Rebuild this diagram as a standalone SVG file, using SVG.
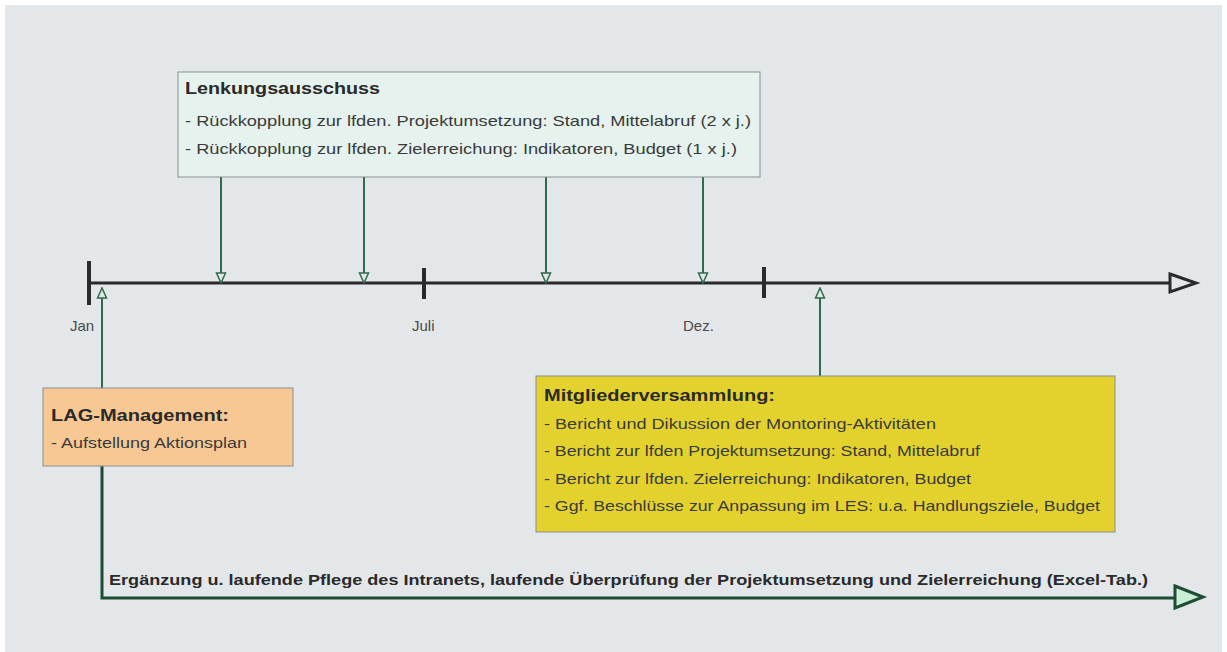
<svg xmlns="http://www.w3.org/2000/svg" width="1227" height="652" viewBox="0 0 1227 652">
<defs>
<style>
text{font-family:"Liberation Sans",Arial,sans-serif;fill:#3a3a3a;font-size:15px}
.b{font-weight:bold;fill:#2a2a2a;font-size:16px}
.lbl{font-size:15px;fill:#4a4a4a}
.box{stroke:#8a9090;stroke-width:1}
.g{stroke:#2f6a4a;stroke-width:2;fill:none}
</style>
<marker id="ah" viewBox="0 0 12 12" refX="11" refY="6" markerWidth="12" markerHeight="12" markerUnits="userSpaceOnUse" orient="auto">
<path d="M1,1.5 L11,6 L1,10.5 Z" fill="#e3e7ea" stroke="#2f6a4a" stroke-width="1.5"/>
</marker>
</defs>
<rect x="0" y="0" width="1227" height="652" fill="#ffffff"/>
<rect x="5" y="5" width="1217" height="647" fill="#e3e7ea"/>

<g id="timeline">
<line x1="89" y1="283" x2="1172" y2="283" stroke="#2a2a2a" stroke-width="3"/>
<path d="M1170,274 L1196,283 L1170,292 Z" fill="#e3e7ea" stroke="#2a2a2a" stroke-width="3" stroke-linejoin="miter"/>
<line x1="89" y1="261" x2="89" y2="305" stroke="#2a2a2a" stroke-width="4"/>
<line x1="424" y1="268" x2="424" y2="299" stroke="#2a2a2a" stroke-width="4"/>
<line x1="764" y1="267" x2="764" y2="298" stroke="#2a2a2a" stroke-width="4"/>
<text class="lbl" x="70" y="331">Jan</text>
<text class="lbl" x="412" y="331">Juli</text>
<text class="lbl" x="683" y="331">Dez.</text>
</g>

<g id="connectors">
<line class="g" x1="221" y1="177" x2="221" y2="283" marker-end="url(#ah)"/>
<line class="g" x1="364" y1="177" x2="364" y2="283" marker-end="url(#ah)"/>
<line class="g" x1="546" y1="177" x2="546" y2="283" marker-end="url(#ah)"/>
<line class="g" x1="703" y1="177" x2="703" y2="283" marker-end="url(#ah)"/>
<line class="g" x1="820" y1="376" x2="820" y2="288" marker-end="url(#ah)"/>
<line class="g" x1="102" y1="388" x2="102" y2="288" marker-end="url(#ah)"/>
<path d="M102,466 L102,598 L1176,598" fill="none" stroke="#1f4d33" stroke-width="3"/>
<path d="M1175,586 L1203,597 L1175,608 Z" fill="#c9efd6" stroke="#1f4d33" stroke-width="3"/>
</g>

<g id="lenkungsausschuss">
<rect class="box" x="178" y="72" width="582" height="105" fill="#e5f2ed"/>
<text class="b" x="185" y="94" textLength="195" lengthAdjust="spacingAndGlyphs">Lenkungsausschuss</text>
<text x="185" y="126" textLength="566" lengthAdjust="spacingAndGlyphs">- Rückkopplung zur lfden. Projektumsetzung: Stand, Mittelabruf (2 x j.)</text>
<text x="185" y="154" textLength="552" lengthAdjust="spacingAndGlyphs">- Rückkopplung zur lfden. Zielerreichung: Indikatoren, Budget (1 x j.)</text>
</g>

<g id="lag-management">
<rect class="box" x="43" y="388" width="250" height="78" fill="#f8c894"/>
<text class="b" x="51" y="421" textLength="178" lengthAdjust="spacingAndGlyphs">LAG-Management:</text>
<text x="51" y="448" textLength="196" lengthAdjust="spacingAndGlyphs">- Aufstellung Aktionsplan</text>
</g>

<g id="mitgliederversammlung">
<rect class="box" x="536" y="376" width="579" height="156" fill="#e3d22e"/>
<text class="b" x="544" y="401" textLength="231" lengthAdjust="spacingAndGlyphs">Mitgliederversammlung:</text>
<text x="544" y="429" textLength="392" lengthAdjust="spacingAndGlyphs">- Bericht und Dikussion der Montoring-Aktivitäten</text>
<text x="544" y="456" textLength="436" lengthAdjust="spacingAndGlyphs">- Bericht zur lfden Projektumsetzung: Stand, Mittelabruf</text>
<text x="544" y="484" textLength="427" lengthAdjust="spacingAndGlyphs">- Bericht zur lfden. Zielerreichung: Indikatoren, Budget</text>
<text x="544" y="511" textLength="556" lengthAdjust="spacingAndGlyphs">- Ggf. Beschlüsse zur Anpassung im LES: u.a. Handlungsziele, Budget</text>
</g>

<g id="bottom-label">
<text class="b" x="109" y="585" style="font-size:15px" textLength="1039" lengthAdjust="spacingAndGlyphs">Ergänzung u. laufende Pflege des Intranets, laufende Überprüfung der Projektumsetzung und Zielerreichung (Excel-Tab.)</text>
</g>
</svg>
